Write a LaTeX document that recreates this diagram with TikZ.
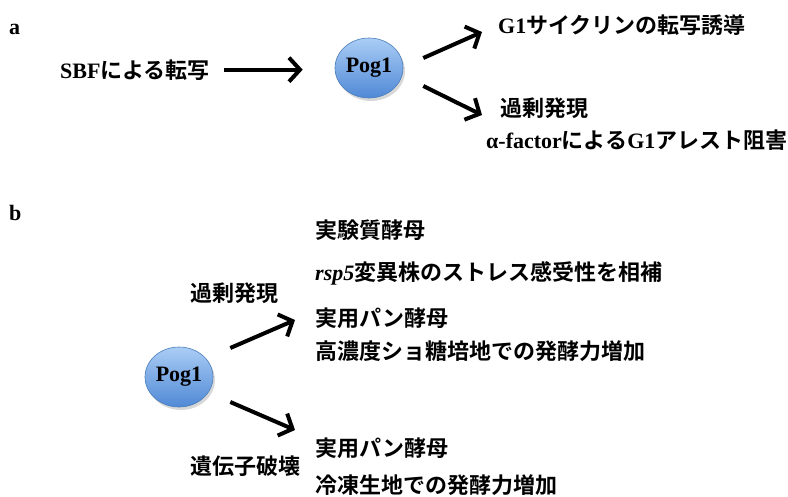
\documentclass[tikz,border=0pt]{standalone}
\usepackage{fontspec}
\setmainfont{Liberation Serif}
\newfontfamily\jpfont{Noto Sans CJK JP}[BoldFont={Noto Sans CJK JP Bold}]
\newcommand\jt[1]{{\jpfont\bfseries #1}}
\usetikzlibrary{arrows.meta,shadows,shapes.geometric}
\definecolor{pogtop}{HTML}{AACDF5}
\definecolor{pogbot}{HTML}{5089D6}
\definecolor{pogedge}{HTML}{4A7EBB}
\begin{document}
\begin{tikzpicture}[x=1pt,y=-1pt,
  lbl/.style={anchor=base west, inner sep=0, font=\fontsize{22}{26}\selectfont\bfseries},
  pognode/.style={ellipse, minimum width=68pt, minimum height=60pt, inner sep=0,
    top color=pogtop, bottom color=pogbot, draw=pogedge, line width=0.6pt,
    drop shadow={shadow xshift=2pt, shadow yshift=-3pt, opacity=0.3},
    font=\fontsize{22}{26}\selectfont\bfseries},
  arr/.style={line width=4pt, -{Straight Barb[length=11pt, width=24pt]}}]
\fill[white] (0,0) rectangle (788,496);
\useasboundingbox (0,0) rectangle (788,496);

% ---- panel a ----
\node[lbl] (la) at (9,34) {a};
\node[lbl] (sbf) at (60,78) {SBF\jt{による転写}};
\node[pognode] (pogA) at (369,68) {Pog1};
\node[lbl] (g1) at (498,33) {G1\jt{サイクリンの転写誘導}};
\node[lbl] (oxA) at (500,116) {\jt{過剰発現}};
\node[lbl] (alpha) at (486,148) {α-factor\jt{による}G1\jt{アレスト阻害}};
\coordinate (aTipU) at (482,32);
\coordinate (aTipD) at (482,115);
\draw[arr, shorten <=14pt, shorten >=32pt] (sbf.east) -- (sbf.east -| pogA.west);
\draw[arr] ([shift={(20,-10)}]pogA.east) -- (aTipU);
\draw[arr] ([shift={(20,18)}]pogA.east) -- (aTipD);

% ---- panel b ----
\node[lbl] (lb) at (9,220) {b};
\node[pognode] (pogB) at (179,377) {Pog1};
\node[lbl] (oxB) at (190,301) {\jt{過剰発現}};
\node[lbl] (ko) at (190,474) {\jt{遺伝子破壊}};
\node[lbl] (t1) at (315,238) {\jt{実験質酵母}};
\node[lbl] (t2) at (315,280) {\textit{rsp5}\jt{変異株のストレス感受性を相補}};
\node[lbl] (t3) at (315,326) {\jt{実用パン酵母}};
\node[lbl] (t4) at (315,359) {\jt{高濃度ショ糖培地での発酵力増加}};
\node[lbl] (t5) at (315,456) {\jt{実用パン酵母}};
\node[lbl] (t6) at (315,493) {\jt{冷凍生地での発酵力増加}};
\coordinate (bTipU) at (295,320);
\coordinate (bTipD) at (295,430);
\draw[arr] ([shift={(17,-29)}]pogB.east) -- (bTipU);
\draw[arr] ([shift={(17,25)}]pogB.east) -- (bTipD);
\end{tikzpicture}
\end{document}
